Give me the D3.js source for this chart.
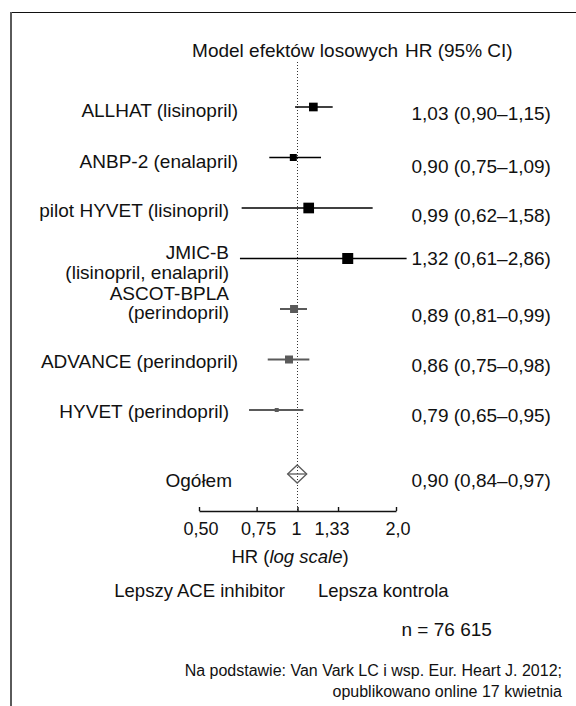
<!DOCTYPE html>
<html>
<head>
<meta charset="utf-8">
<script src="https://cdn.jsdelivr.net/npm/d3@7"></script>
<style>
    html, body { margin: 0; padding: 0; background: #fff; }
    svg text {
        font-family: "Liberation Sans", Arial, Helvetica, sans-serif;
        fill: #111;
    }
</style>
</head>
<body>
<svg id="chart" width="576" height="706"></svg>
<script>
"use strict";

// ----------------------------- Data -----------------------------
// Studies, top to bottom
var studyLabels = [
    ["ALLHAT (lisinopril)"],
    ["ANBP-2 (enalapril)"],
    ["pilot HYVET (lisinopril)"],
    ["JMIC-B", "(lisinopril, enalapril)"],
    ["ASCOT-BPLA", "(perindopril)"],
    ["ADVANCE (perindopril)"],
    ["HYVET (perindopril)"]
];
var studyDrug = ["lisinopril", "enalapril", "lisinopril", "lisinopril, enalapril",
                 "perindopril", "perindopril", "perindopril"];
var hrText = [
    "1,03 (0,90–1,15)",
    "0,90 (0,75–1,09)",
    "0,99 (0,62–1,58)",
    "1,32 (0,61–2,86)",
    "0,89 (0,81–0,99)",
    "0,86 (0,75–0,98)",
    "0,79 (0,65–0,95)"
];
// values as they are drawn on the log axis
var hrPlotted     = [1.118, 0.971, 1.082, 1.424, 0.976, 0.942, 0.864];
var ciLowPlotted  = [0.983, 0.820, 0.675, 0.667, 0.884, 0.811, 0.711];
var ciHighPlotted = [1.281, 1.180, 1.697, 2.155, 1.069, 1.087, 1.042];
var studyWeight   = [75, 49, 114, 121, 64, 64, 16];

var overallLabel = "Ogółem";
var overallText = "0,90 (0,84–0,97)";
var overallLow = 0.933, overallHr = 0.998, overallHigh = 1.067;

var axisTicks = [0.5, 0.75, 1, 1.33, 2];
var axisTickLabels = ["0,50", "0,75", "1", "1,33", "2,0"];

// --------------------------- Layout -----------------------------
var labelRight = [238, 238, 229, 229, 229, 238, 229];   // right edge of study labels
var labelDy    = [10, 10, 9, 0.5, -9.5, 8.5, 8];         // baseline of first label line
var valueDy    = [13, 15.5, 14, 6.5, 13, 12.5, 12];      // baseline of HR text
var LINE_H = 19.5;
var GREY = "#5a5a5a";

var svg = d3.select("#chart");

// frame (open on the right and bottom)
svg.append("line")
    .attr("x1", 10).attr("x2", 576).attr("y1", 12.5).attr("y2", 12.5)
    .attr("stroke", "#111").attr("stroke-width", 1);
svg.append("line")
    .attr("x1", 11).attr("x2", 11).attr("y1", 12).attr("y2", 706)
    .attr("stroke", GREY).attr("stroke-width", 2);

// ---------------------------- Scales ----------------------------
var xScale = d3.scaleLog().domain([0.5, 2]).range([199, 396]);
var yScale = d3.scaleLinear().domain([0, studyLabels.length - 1]).range([107, 410]);
var yOverall = 474;
var sizeScale = d3.scaleSqrt().domain([0, d3.max(studyWeight)]).range([0, 11]);
var AXIS_Y = 511;

// header
svg.append("text")
    .attr("x", 398).attr("y", 56.5)
    .attr("text-anchor", "end")
    .style("font-size", "19px")
    .text("Model efektów losowych");
svg.append("text")
    .attr("x", 405).attr("y", 56.5)
    .style("font-size", "19px")
    .text("HR (95% CI)");

// reference line at HR = 1
svg.append("line")
    .attr("x1", xScale(1)).attr("x2", xScale(1))
    .attr("y1", 62).attr("y2", AXIS_Y)
    .attr("stroke", "#333").attr("stroke-width", 1)
    .attr("stroke-dasharray", "1,2");

// ---------------------------- Rows ------------------------------
var rows = studyLabels.map(function (lab, i) {
    return {
        label: lab, drug: studyDrug[i], text: hrText[i],
        hr: hrPlotted[i], lo: ciLowPlotted[i], hi: ciHighPlotted[i],
        w: studyWeight[i], i: i
    };
});

var rowG = svg.selectAll(".row")
    .data(rows)
    .enter().append("g")
    .attr("class", "row");

rowG.each(function (d) {
    var g = d3.select(this);
    var y = yScale(d.i);
    var col = d.drug === "perindopril" ? GREY : "#000";

    // label, one or two lines
    d.label.forEach(function (line, k) {
        g.append("text")
            .attr("x", labelRight[d.i])
            .attr("y", y + labelDy[d.i] + k * LINE_H)
            .attr("text-anchor", "end")
            .style("font-size", "19px")
            .text(line);
    });

    // confidence interval
    g.append("line")
        .attr("x1", xScale(d.lo)).attr("x2", xScale(d.hi))
        .attr("y1", y).attr("y2", y)
        .attr("stroke", col)
        .attr("stroke-width", d.drug === "perindopril" ? 2 : 1.4);

    // weight square
    var s = sizeScale(d.w);
    g.append("rect")
        .attr("x", xScale(d.hr) - s / 2).attr("y", y - s / 2)
        .attr("width", s).attr("height", s)
        .attr("fill", col);

    // HR text
    g.append("text")
        .attr("x", 411.5).attr("y", y + valueDy[d.i])
        .style("font-size", "19px")
        .text(d.text);
});

// overall
svg.append("text")
    .attr("x", 232).attr("y", yOverall + 13)
    .attr("text-anchor", "end")
    .style("font-size", "19px")
    .text(overallLabel);
svg.append("text")
    .attr("x", 411.5).attr("y", yOverall + 13)
    .style("font-size", "19px")
    .text(overallText);

var dh = 9;
svg.append("polygon")
    .attr("points", [
        [xScale(overallLow), yOverall],
        [xScale(overallHr), yOverall - dh],
        [xScale(overallHigh), yOverall],
        [xScale(overallHr), yOverall + dh]
    ].map(function (p) { return p.join(","); }).join(" "))
    .attr("fill", "none").attr("stroke", GREY).attr("stroke-width", 1.3);
svg.append("line")
    .attr("x1", xScale(overallLow)).attr("x2", xScale(overallHigh))
    .attr("y1", yOverall).attr("y2", yOverall)
    .attr("stroke", GREY).attr("stroke-width", 1.3);

// ----------------------------- Axis -----------------------------
var xAxis = d3.axisBottom(xScale)
    .tickValues(axisTicks)
    .tickFormat(function (d, i) { return axisTickLabels[i]; })
    .tickSizeInner(-4)
    .tickSizeOuter(0)
    .tickPadding(11);

var axisG = svg.append("g")
    .attr("transform", "translate(0," + AXIS_Y + ")")
    .call(xAxis);
axisG.attr("font-family", null).attr("font-size", null);
axisG.select(".domain").attr("stroke", "#111").attr("stroke-width", 1.6);
axisG.selectAll(".tick line").attr("stroke", "#111").attr("stroke-width", 1.4);
axisG.selectAll(".tick text")
    .attr("fill", "#111")
    .style("font-size", "18px")
    .attr("dx", function (d) {
        if (d === 1.33) return -6.5;
        if (d === 1) return -1.5;
        return 1.5;
    });

// axis title
var title = svg.append("text")
    .attr("x", 290).attr("y", 563)
    .attr("text-anchor", "middle")
    .style("font-size", "18.5px");
title.append("tspan").text("HR (");
title.append("tspan").style("font-style", "italic").text("log scale");
title.append("tspan").text(")");

// direction labels
svg.append("text")
    .attr("x", 285).attr("y", 597)
    .attr("text-anchor", "end")
    .style("font-size", "18.5px")
    .text("Lepszy ACE inhibitor");
svg.append("text")
    .attr("x", 318).attr("y", 597)
    .style("font-size", "18.5px")
    .text("Lepsza kontrola");

// sample size
svg.append("text")
    .attr("x", 401.5).attr("y", 636)
    .style("font-size", "19px")
    .text("n = 76 615");

// source
svg.append("text")
    .attr("x", 562).attr("y", 676)
    .attr("text-anchor", "end")
    .style("font-size", "16px")
    .text("Na podstawie: Van Vark LC i wsp. Eur. Heart J. 2012;");
svg.append("text")
    .attr("x", 562).attr("y", 697)
    .attr("text-anchor", "end")
    .style("font-size", "16px")
    .text("opublikowano online 17 kwietnia");
</script>
</body>
</html>
